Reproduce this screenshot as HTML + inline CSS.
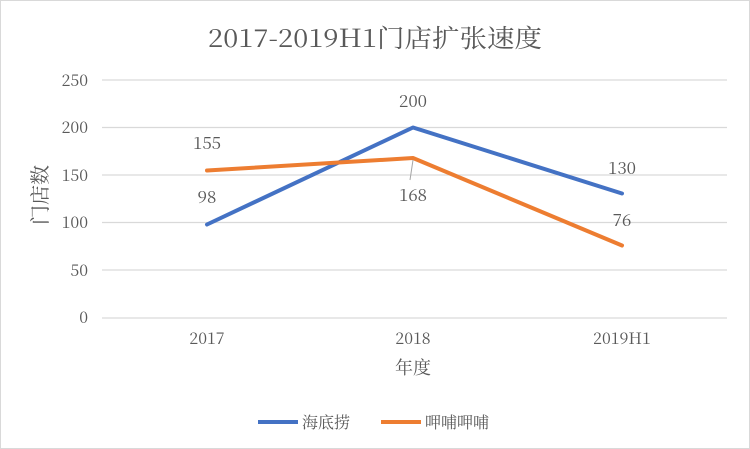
<!DOCTYPE html>
<html><head><meta charset="utf-8"><style>
body{margin:0;background:#fff}
svg{display:block}
text{font-family:"Noto Serif CJK SC","Liberation Serif",serif;fill:#595959}
</style></head><body>
<svg width="750" height="449" viewBox="0 0 750 449">
<rect x="0.5" y="0.5" width="749" height="448" fill="#fff" stroke="#d9d9d9"/>
<text x="375" y="47" text-anchor="middle" font-size="25" textLength="334" lengthAdjust="spacingAndGlyphs">2017-2019H1门店扩张速度</text>
<g stroke="#d9d9d9" stroke-width="1.3">
<line x1="102" x2="727" y1="80" y2="80"/>
<line x1="102" x2="727" y1="127.5" y2="127.5"/>
<line x1="102" x2="727" y1="175" y2="175"/>
<line x1="102" x2="727" y1="222.5" y2="222.5"/>
<line x1="102" x2="727" y1="270" y2="270"/>
<line x1="102" x2="727" y1="318" y2="318"/>
</g>
<g font-size="16" text-anchor="end">
<text x="88" y="86">250</text><text x="88" y="133">200</text><text x="88" y="181">150</text>
<text x="88" y="228">100</text><text x="88" y="276">50</text><text x="88" y="323">0</text>
</g>
<g font-size="16" text-anchor="middle">
<text x="207" y="344">2017</text><text x="413" y="344">2018</text><text x="622" y="344">2019H1</text>
</g>
<text x="413" y="374" text-anchor="middle" font-size="18">年度</text>
<text transform="translate(47,195) rotate(-90)" text-anchor="middle" font-size="20">门店数</text>
<polyline points="207,224.5 413,127.5 622,193.5" fill="none" stroke="#4472c4" stroke-width="4" stroke-linecap="round" stroke-linejoin="round"/>
<polyline points="207,170.5 413,158 622,245.5" fill="none" stroke="#ed7d31" stroke-width="4" stroke-linecap="round" stroke-linejoin="round"/>
<line x1="413" y1="160" x2="410" y2="180" stroke="#a6a6a6" stroke-width="1"/>
<g font-size="17" text-anchor="middle">
<text x="207" y="149">155</text><text x="207" y="203">98</text>
<text x="413" y="107">200</text><text x="413" y="201">168</text>
<text x="622" y="174">130</text><text x="622" y="226">76</text>
</g>
<line x1="258" y1="422" x2="298" y2="422" stroke="#4472c4" stroke-width="4"/>
<text x="302" y="428" font-size="16">海底捞</text>
<line x1="381" y1="422" x2="421" y2="422" stroke="#ed7d31" stroke-width="4"/>
<text x="425" y="428" font-size="16">呷哺呷哺</text>
</svg>
</body></html>
